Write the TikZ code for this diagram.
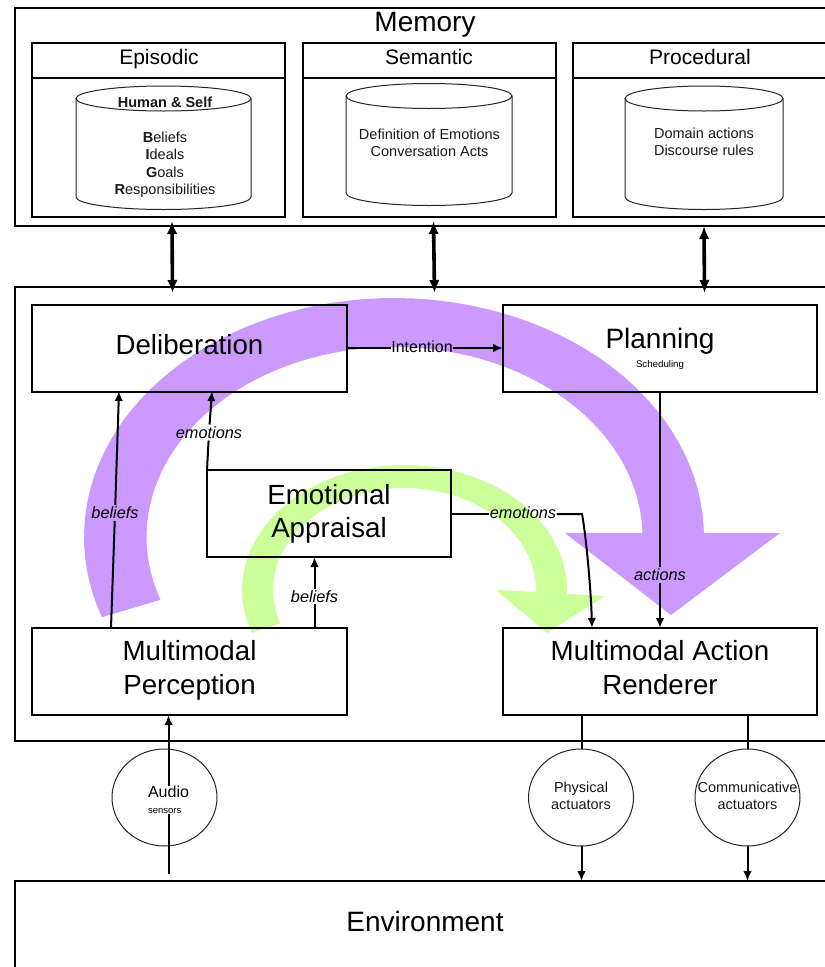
\documentclass[tikz,border=0pt]{standalone}
\usepackage{fontspec}
\setmainfont{Liberation Sans}
\usetikzlibrary{arrows.meta,shapes.geometric}
\definecolor{purp}{HTML}{CC99FF}
\definecolor{lime}{HTML}{CCFF99}
\newcommand{\fz}[2]{\fontsize{#1}{#2}\selectfont}
% x1, x2, ymid, ry, ybottom
\newcommand{\drumpath}[5]{%
  \pgfmathsetmacro{\cxm}{(#1+#2)/2}%
  \pgfmathsetmacro{\kx}{0.5523*(#2-#1)/2}%
  \pgfmathsetmacro{\ky}{0.5523*#4}%
  \pgfmathsetmacro{\ytop}{#3-#4}%
  \pgfmathsetmacro{\ylow}{#3+#4}%
  \pgfmathsetmacro{\ybl}{#5+#4}%
  \draw[drum] (#1,#3) .. controls (#1,#3-\ky) and (\cxm-\kx,\ytop) .. (\cxm,\ytop)
    .. controls (\cxm+\kx,\ytop) and (#2,#3-\ky) .. (#2,#3)
    .. controls (#2,#3+\ky) and (\cxm+\kx,\ylow) .. (\cxm,\ylow)
    .. controls (\cxm-\kx,\ylow) and (#1,#3+\ky) .. (#1,#3) -- cycle;
  \draw[drum] (#1,#3) -- (#1,#5) .. controls (#1,#5+\ky) and (\cxm-\kx,\ybl) .. (\cxm,\ybl)
    .. controls (\cxm+\kx,\ybl) and (#2,#5+\ky) .. (#2,#5) -- (#2,#3);
}
\tikzset{
  x=1pt,y=-1pt,
  frame/.style={draw=black,line width=2pt,rectangle,inner sep=0pt,outer sep=0pt},
  bigbox/.style={frame,font=\fz{27.7}{33.5},align=center,text depth=8pt,minimum width=#1,minimum height=87.5pt},
  drum/.style={draw=black!85,line width=1pt},
  head/.style={font=\fz{21}{25},inner sep=0pt},
  small/.style={font=\fz{14.5}{17.5},align=center,inner sep=0pt,text=black!90},
  tag/.style={font=\fz{16.3}{18}\itshape,inner sep=2pt,outer sep=0pt},
  circ/.style={ellipse,draw=black!85,line width=1pt,minimum width=105pt,minimum height=97pt,inner sep=0pt,outer sep=0pt},
  link/.style={line width=2pt,draw=black},
  linka/.style={link,-{Latex[length=10pt,width=8.5pt]}},
  dbl/.style={line width=3.6pt,{Latex[length=13pt,width=10.5pt]}-{Latex[length=13pt,width=10.5pt]}},
}
\begin{document}
\begin{tikzpicture}
\path[use as bounding box,clip] (0,0) rectangle (825,967);
\fill[white] (0,0) rectangle (825,967);

% big sweeping arrows
\fill[purp] plot[domain=199.6:0,samples=70] ({394+310*cos(\x)},{537-239*sin(\x)})
  -- (704,533) -- (780,533) -- (671,615) -- (565,533) -- (642,533)
  -- plot[domain=0:199.3,samples=70] ({394.5+248*cos(\x)},{537-190*sin(\x)}) -- cycle;
\fill[lime] plot[domain=200:0,samples=60] ({404.5+162.5*cos(\x)},{590-125*sin(\x)})
  -- (567,594) -- (605,596) -- (547,633) -- (496,590) -- (536,592)
  -- plot[domain=0:199,samples=60] ({404.5+131.5*cos(\x)},{590-102*sin(\x)}) -- cycle;

% outer containers
\node[frame,minimum width=825pt,minimum height=218pt,anchor=north west] (memory) at (15,8) {};
\node[frame,minimum width=825pt,minimum height=454pt,anchor=north west] (agent) at (15,287) {};
\node[frame,minimum width=825pt,minimum height=100pt,anchor=north west] (environment) at (15,881) {};
\node[font=\fz{28}{30},inner sep=0pt] (memorytext) at (425,25) {Memory};
\node[font=\fz{28}{30},inner sep=0pt] (envtext) at (425,921) {Environment};

% memory stores
\node[frame,minimum width=253pt,minimum height=174pt,anchor=north west] (episodic) at (32,43) {};
\node[frame,minimum width=253pt,minimum height=174pt,anchor=north west] (semantic) at (303,43) {};
\node[frame,minimum width=270pt,minimum height=174pt,anchor=north west] (procedural) at (573,43) {};
\draw[link] (episodic.west |- 0,77.5) -- (episodic.east |- 0,77.5);
\draw[link] (semantic.west |- 0,77.5) -- (semantic.east |- 0,77.5);
\draw[link] (procedural.west |- 0,77.5) -- (procedural.east |- 0,77.5);
\node[head] (episodictext) at (159,59) {Episodic};
\node[head] (semantictext) at (429,57) {Semantic};
\node[head] (proceduraltext) at (700,57) {Procedural};

\drumpath{76}{251}{98.5}{12.5}{197}
\drumpath{346}{512}{96}{12.5}{193}
\drumpath{625}{783}{98.5}{12.5}{197}
\node[small,font=\fz{14.5}{17.5}\bfseries] (humanself) at (165,102) {Human \& Self};
\node[small] (bigr) at (165,164.5) {\textbf{B}eliefs\\\textbf{I}deals\\\textbf{G}oals\\\textbf{R}esponsibilities};
\node[small] (semtext) at (429.5,143) {Definition of Emotions\\Conversation Acts};
\node[small] (proctext) at (704,142) {Domain actions\\Discourse rules};

% process boxes
\node[bigbox=315pt] (deliberation) at (189.5,348.5) {Deliberation};
\node[bigbox=314pt,text depth=0pt] (planning) at (660,348.5) {};
\node[font=\fz{28}{30},inner sep=0pt] (planningtext) at (660,341.5) {Planning};
\node[font=\fz{9.7}{10},inner sep=0pt] (scheduling) at (660,365) {Scheduling};
\node[bigbox=244pt,text depth=5pt] (appraisal) at (329,513.5) {Emotional\\Appraisal};
\node[bigbox=315pt] (perception) at (189.5,671.5) {Multimodal\\Perception};
\node[bigbox=314pt] (renderer) at (660,671.5) {Multimodal Action\\Renderer};

% memory <-> agent
\coordinate (ma) at (172,221); \coordinate (mb) at (172.5,293);
\coordinate (sa) at (433.5,221); \coordinate (sb) at (434.5,293);
\coordinate (pa) at (704,226); \coordinate (pb) at (704.5,293);
\draw[dbl] (ma) -- (mb);
\draw[dbl] (sa) -- (sb);
\draw[dbl] (pa) -- (pb);

% internal connectors
\coordinate (b1s) at (111,628); \coordinate (b1e) at (119,391);
\node[tag] (beliefsa) at (115,513) {beliefs};
\draw[link] (b1s) -- (beliefsa);
\draw[linka] (beliefsa) -- (b1e);

\coordinate (e1s) at (207,470); \coordinate (e1e) at (212,391);
\node[tag] (emotionsa) at (209,432.5) {emotions};
\draw[link] (e1s) -- (emotionsa);
\draw[linka] (emotionsa) -- (e1e);

\coordinate (b2s) at (314.5,628); \coordinate (b2e) at (314.5,557);
\node[tag] (beliefsb) at (314.5,596.5) {beliefs};
\draw[link] (b2s) -- (beliefsb);
\draw[linka] (beliefsb) -- (b2e);

\coordinate (e2s) at (451,514); \coordinate (e2m) at (582,514); \coordinate (e2e) at (592,628);
\node[tag,inner sep=0.5pt] (emotionsb) at (523,512.5) {emotions};
\draw[link] (e2s) -- (emotionsb.west |- e2s);
\draw[linka] (emotionsb.east |- e2m) -- (e2m) .. controls (586,535) and (591,590) .. (e2e);

\coordinate (i1) at (347,348); \coordinate (i2) at (503,348);
\node[font=\fz{16}{17},inner sep=0pt,outer sep=0pt] (intention) at (422,347) {Intention};
\draw[link] (i1) -- (intention.west |- i1);
\draw[linka] (intention.east |- i2) -- (i2);

\coordinate (a1) at (660,391); \coordinate (a2) at (660,628);
\node[tag] (actions) at (660,575) {actions};
\draw[link] (a1) -- (actions);
\draw[linka] (actions) -- (a2);

% sensors and actuators
\node[circ] (audio) at (164.5,797.5) {};
\node[font=\fz{16}{17},align=left,inner sep=0pt,outer sep=0pt] (audiotext) at (168.5,800) {Audio\\[-1pt]{\fz{9.5}{11}sensors}};
\coordinate (as) at (168.5,874); \coordinate (ae) at (168.5,715);
\draw[link] (as) -- (audiotext.south -| as);
\draw[linka] (audiotext.north -| ae) -- (ae);

\node[circ] (physical) at (581,797.5) {};
\node[small] (physicaltext) at (581,796) {Physical\\actuators};
\node[circ] (communicative) at (747.5,797.5) {};
\node[small] (communicativetext) at (747.5,796) {Communicative\\actuators};
\coordinate (p0) at (581.5,715); \coordinate (p1) at (581.5,881);
\coordinate (c0) at (747.5,715); \coordinate (c1) at (747.5,881);
\draw[link] (p0) -- (physical.north -| p0);
\draw[linka] (physical.south -| p1) -- (p1);
\draw[link] (c0) -- (communicative.north);
\draw[linka] (communicative.south) -- (c1);
\end{tikzpicture}
\end{document}
